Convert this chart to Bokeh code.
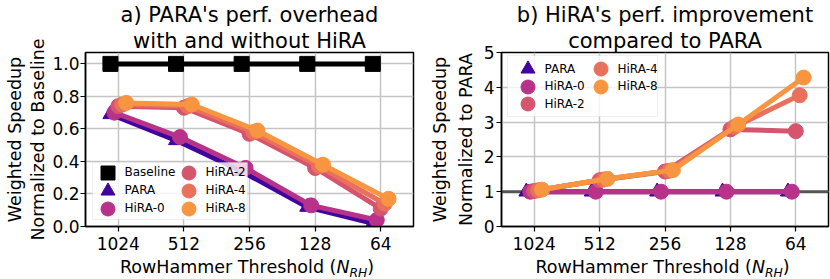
from bokeh.plotting import figure
from bokeh.models import (FixedTicker, Legend, LegendItem, Span, Range1d, Title, Div,
                          PrintfTickFormatter, BoxAnnotation)
from bokeh.layouts import row, column
from bokeh.embed import file_html
from bokeh.resources import INLINE

# ---------------- data ----------------
thresholds = ["1024", "512", "256", "128", "64"]

# panel a) normalized to Baseline
a_baseline = [1.00, 1.00, 1.00, 1.00, 1.00]
a_para = [0.69, 0.53, 0.34, 0.12, 0.02]
a_hira0 = [0.70, 0.55, 0.36, 0.13, 0.04]
a_hira2 = [0.74, 0.73, 0.57, 0.36, 0.11]
a_hira4 = [0.75, 0.74, 0.58, 0.37, 0.14]
a_hira8 = [0.76, 0.75, 0.59, 0.38, 0.17]

# panel b) normalized to PARA
b_para = [1.00, 1.00, 1.00, 1.00, 1.00]
b_hira0 = [1.00, 1.00, 1.00, 1.00, 1.00]
b_hira2 = [1.02, 1.33, 1.58, 2.79, 2.74]
b_hira4 = [1.04, 1.35, 1.60, 2.86, 3.77]
b_hira8 = [1.06, 1.37, 1.62, 2.93, 4.28]

series_names = ["PARA", "HiRA-0", "HiRA-2", "HiRA-4", "HiRA-8"]

# ---------------- style ----------------
FONT = "DejaVu Sans"
COLORS = {"Baseline": "#000000", "PARA": "#41049d", "HiRA-0": "#b83289",
          "HiRA-2": "#d5546e", "HiRA-4": "#e8705c", "HiRA-8": "#f89540"}
MARKERS = {"Baseline": "square", "PARA": "triangle", "HiRA-0": "circle",
           "HiRA-2": "circle", "HiRA-4": "circle", "HiRA-8": "circle"}
OFFSETS = {"Baseline": -0.12, "PARA": -0.12, "HiRA-0": -0.06, "HiRA-2": 0.0,
           "HiRA-4": 0.06, "HiRA-8": 0.12}
H = 256
TOP = 52
BOTTOM = 30
FH = H - TOP - BOTTOM   # frame height


def make_fig(title1, title2, ylabel1, ylabel2, width, border_left, yr, yticks, yfmt,
             label_standoff, tick_standoff):
    p = figure(width=width, height=H, output_backend="svg", toolbar_location=None,
               x_range=Range1d(-0.5, 4.5), y_range=Range1d(*yr),
               min_border_left=border_left, min_border_right=2,
               min_border_top=TOP, min_border_bottom=BOTTOM)
    for txt in (title2, title1):
        p.add_layout(Title(text=txt, align="center", text_font=FONT,
                           text_font_size="21px", text_font_style="normal",
                           text_color="#000000", standoff=0), "above")
    # two-line y-axis label (inner line first, so it sits next to the axis)
    for txt, so in ((ylabel2, label_standoff), (ylabel1, 0)):
        p.add_layout(Title(text=txt, align="center", text_font=FONT,
                           text_font_size="17.5px", text_font_style="normal",
                           text_color="#000000", standoff=so), "left")

    p.xaxis.ticker = FixedTicker(ticks=list(range(len(thresholds))))
    p.xaxis.major_label_overrides = {i: t for i, t in enumerate(thresholds)}
    p.yaxis.ticker = FixedTicker(ticks=yticks)
    p.yaxis.formatter = PrintfTickFormatter(format=yfmt)
    for ax in (p.xaxis[0], p.yaxis[0]):
        ax.major_label_text_font = FONT
        ax.major_label_text_font_size = "17px"
        ax.major_label_text_color = "#000000"
        ax.axis_line_color = "#000000"
        ax.axis_line_width = 1.5
        ax.major_tick_line_color = "#000000"
        ax.major_tick_line_width = 1.2
        ax.major_tick_out = 5
        ax.major_tick_in = 0
        ax.minor_tick_line_color = None
    p.xaxis.major_label_standoff = 5
    p.yaxis.major_label_standoff = tick_standoff

    p.grid.grid_line_color = "#c4c4c4"
    p.grid.grid_line_width = 1.5
    p.outline_line_color = "#000000"
    p.outline_line_width = 1.5
    p.background_fill_color = "white"
    p.border_fill_color = "white"
    return p


def draw(p, name, ys):
    xs = [i + OFFSETS[name] for i in range(len(ys))]
    c = COLORS[name]
    p.line(xs, ys, line_color=c, line_width=5)
    return p.scatter(xs, ys, marker=MARKERS[name], size=15, fill_color=c, line_color=c)


def add_legend(p, box, entries):
    # box: (left, right, bottom, top) in px relative to frame bottom-left
    l, r, b, t = box
    p.add_layout(BoxAnnotation(left=l, right=r, bottom=b, top=t,
                               left_units="screen", right_units="screen",
                               bottom_units="screen", top_units="screen",
                               fill_color="white", fill_alpha=0.8,
                               line_color="#cccccc", line_width=1))
    # entries: (label, renderer, glyph centre x, glyph centre y, standoff)
    for label, rend, cx, cy, st in entries:
        p.add_layout(Legend(items=[LegendItem(label=label, renderers=[rend])],
                            location=(cx - 17.5, cy - 17.5), orientation="vertical",
                            glyph_width=35, glyph_height=35, spacing=0, padding=0,
                            margin=0, label_standoff=st, label_width=20, label_height=20,
                            label_text_font=FONT, label_text_font_size="12px",
                            label_text_color="#000000", border_line_color=None,
                            background_fill_alpha=0.0))


def make_xlabel(width, center):
    pad = 2 * center - width
    pad_css = f"padding-left:{pad}px" if pad >= 0 else f"padding-right:{-pad}px"
    html = (f'<div style="box-sizing:border-box;width:{width}px;{pad_css};'
            f'text-align:center;font-family:\'DejaVu Sans\';font-size:17.5px;'
            f'line-height:22px;color:#000;white-space:nowrap">'
            'RowHammer Threshold (<i>N</i><sub style="font-size:12.25px;'
            'vertical-align:-4px;line-height:0"><i>RH</i></sub>)</div>')
    return Div(text=html, width=width, height=279 - H, margin=0)


# ---------------- panel a ----------------
pa = make_fig("a) PARA's perf. overhead", "with and without HiRA",
              "Weighted Speedup", "Normalized to Baseline", 415, 85, (0, 1.07),
              [0.0, 0.2, 0.4, 0.6, 0.8, 1.0], "%.1f", 3, 1)
ra = {}
for name, ys in [("Baseline", a_baseline), ("PARA", a_para), ("HiRA-0", a_hira0),
                 ("HiRA-2", a_hira2), ("HiRA-4", a_hira4), ("HiRA-8", a_hira8)]:
    ra[name] = draw(pa, name, ys)
add_legend(pa, (7, 162, 7, 64), [
    ("Baseline", ra["Baseline"], 22, 54, -2),
    ("PARA", ra["PARA"], 22, 36, -2),
    ("HiRA-0", ra["HiRA-0"], 22, 18, -2),
    ("HiRA-2", ra["HiRA-2"], 103, 54, -5),
    ("HiRA-4", ra["HiRA-4"], 103, 36, -5),
    ("HiRA-8", ra["HiRA-8"], 103, 18, -5),
])

# ---------------- panel b ----------------
pb = make_fig("b) HiRA's perf. improvement", "compared to PARA",
              "Weighted Speedup", "Normalized to PARA", 415, 86, (0, 5),
              [0, 1, 2, 3, 4, 5], "%d", 9, 2)
pb.add_layout(Span(location=1, dimension="width", line_color="#555555",
                   line_width=3, level="underlay"))
rb = {}
for name, ys in zip(series_names, [b_para, b_hira0, b_hira2, b_hira4, b_hira8]):
    rb[name] = draw(pb, name, ys)
add_legend(pb, (6, 156, FH - 64, FH - 3), [
    ("PARA", rb["PARA"], 26, FH - 16.5, -4),
    ("HiRA-0", rb["HiRA-0"], 26, FH - 34, -4),
    ("HiRA-2", rb["HiRA-2"], 26, FH - 51.5, -4),
    ("HiRA-4", rb["HiRA-4"], 99, FH - 16.5, -6),
    ("HiRA-8", rb["HiRA-8"], 99, FH - 34, -6),
])

xa = make_xlabel(415, 247)
xb = make_xlabel(415, 247.5)

layout = column(row(pa, pb), row(xa, xb))
open("out.html", "w").write(file_html(layout, INLINE))
